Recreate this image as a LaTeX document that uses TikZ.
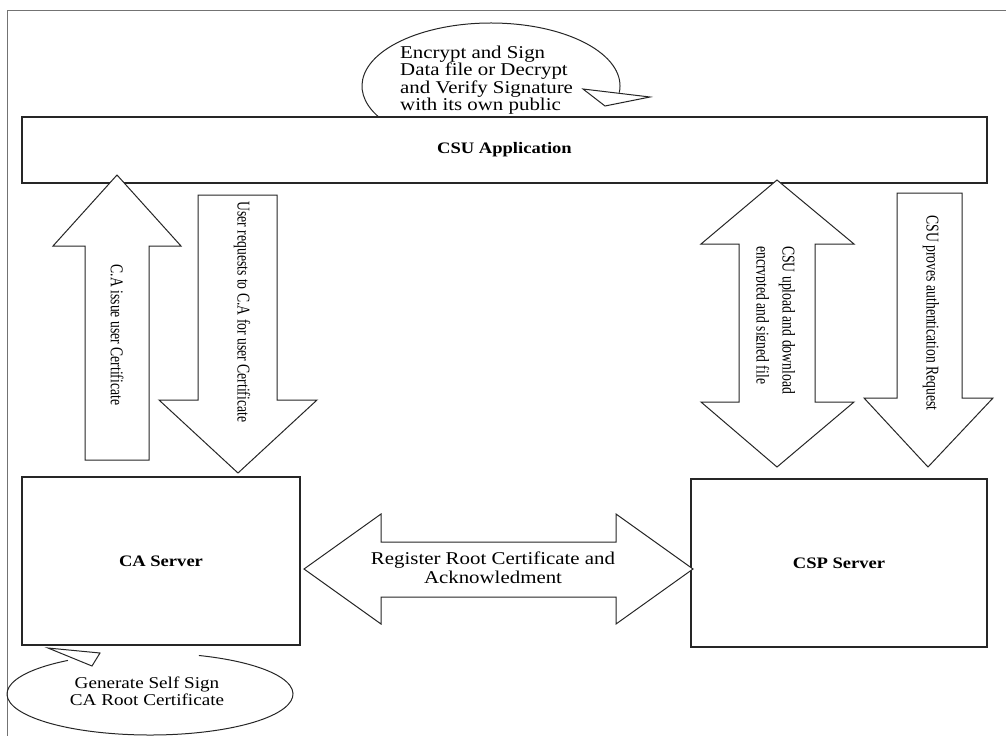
\documentclass[tikz,border=0pt]{standalone}
\usepackage{fontspec}
\setmainfont{Liberation Serif}[FakeStretch=1.16]
\newfontfamily\rotfont{Liberation Serif}[FakeStretch=0.76]
\begin{document}
\begin{tikzpicture}[x=1pt,y=1pt,
  frameline/.style={draw=black!55, line width=1pt},
  box/.style={draw=black!85, line width=1.4pt, fill=white, rectangle, inner sep=0pt,
    font=\bfseries\fontsize{16}{19}\selectfont},
  blockarrow/.style={draw=black!85, line width=1pt, fill=white, line join=miter},
  callout/.style={draw=black!85, line width=1pt, line join=miter},
  lbl/.style={font=\fontsize{18}{19}\selectfont, align=center, inner sep=0pt},
  lblsmall/.style={font=\fontsize{16.5}{17}\selectfont, align=center, inner sep=0pt},
  rot/.style={font=\rotfont\fontsize{18}{20}\selectfont, rotate=-90, inner sep=0pt}]
\useasboundingbox (0,0) rectangle (1006,-736);
% outer frame (top and left)
\draw[frameline] (1006,-10) -- (7,-10) -- (7,-736);
% top callout
\draw[callout] (491,-86) ++(-6:129 and 63) arc[start angle=-6, end angle=212, x radius=129, y radius=63];
\draw[callout] (583,-89) -- (650,-97) -- (605,-106) -- cycle;
\node[lbl, align=left, anchor=west, font=\fontsize{18}{17.5}\selectfont] (enc) at (400,-80)
  {Encrypt and Sign\\Data file or Decrypt\\and Verify Signature\\with its own public};
% boxes
\node[box, minimum width=965pt, minimum height=66pt] (csu) at (504.5,-150) {CSU Application};
\node[box, minimum width=278pt, minimum height=168pt] (ca) at (161,-561) {CA Server};
\node[box, minimum width=296pt, minimum height=168pt] (csp) at (839,-563) {CSP Server};
% block arrows
\draw[blockarrow] (117,-175) -- (181,-246) -- (149,-246) -- (149,-460) -- (85,-460) -- (85,-246) -- (53,-246) -- cycle;
\draw[blockarrow] (198,-195) -- (277,-195) -- (277,-400) -- (317,-400) -- (238,-473) -- (159,-400) -- (198,-400) -- cycle;
\draw[blockarrow] (777,-180) -- (854,-244) -- (815,-244) -- (815,-402) -- (854,-402) -- (777,-467) -- (701,-402) -- (739,-402) -- (739,-244) -- (701,-244) -- cycle;
\draw[blockarrow] (897,-193) -- (962,-193) -- (962,-398) -- (993,-398) -- (928,-467) -- (864,-398) -- (897,-398) -- cycle;
\draw[blockarrow] (304,-569) -- (381,-514) -- (381,-542) -- (616,-542) -- (616,-514) -- (693,-569) -- (616,-624) -- (616,-597) -- (381,-597) -- (381,-624) -- cycle;
% arrow labels
\node[rot] (iss) at (117,-335) {C.A issue user Certificate};
\node[rot] (req) at (242,-312) {User requests to C.A for user Certificate};
\node[rot, anchor=west] (up1) at (787,-246) {CSU upload and download};
\begin{scope}
  \clip (756,-230) rectangle (776,-420);
  \node[rot, anchor=west] (up2) at (761,-246) {encrypted and signed file};
\end{scope}
\node[rot] (prv) at (931,-313) {CSU proves authentication Request};
\node[lbl] (reg) at (493,-568) {Register Root Certificate and\\Acknowledment};
% bottom callout
\draw[callout] (150,-694) ++(125:143 and 41) arc[start angle=125, end angle=430, x radius=143, y radius=41];
\draw[callout] (48,-648) -- (100,-653) -- (92,-666) -- cycle;
\node[lblsmall] (gen) at (147,-691.5) {Generate Self Sign\\CA Root Certificate};
\end{tikzpicture}
\end{document}
